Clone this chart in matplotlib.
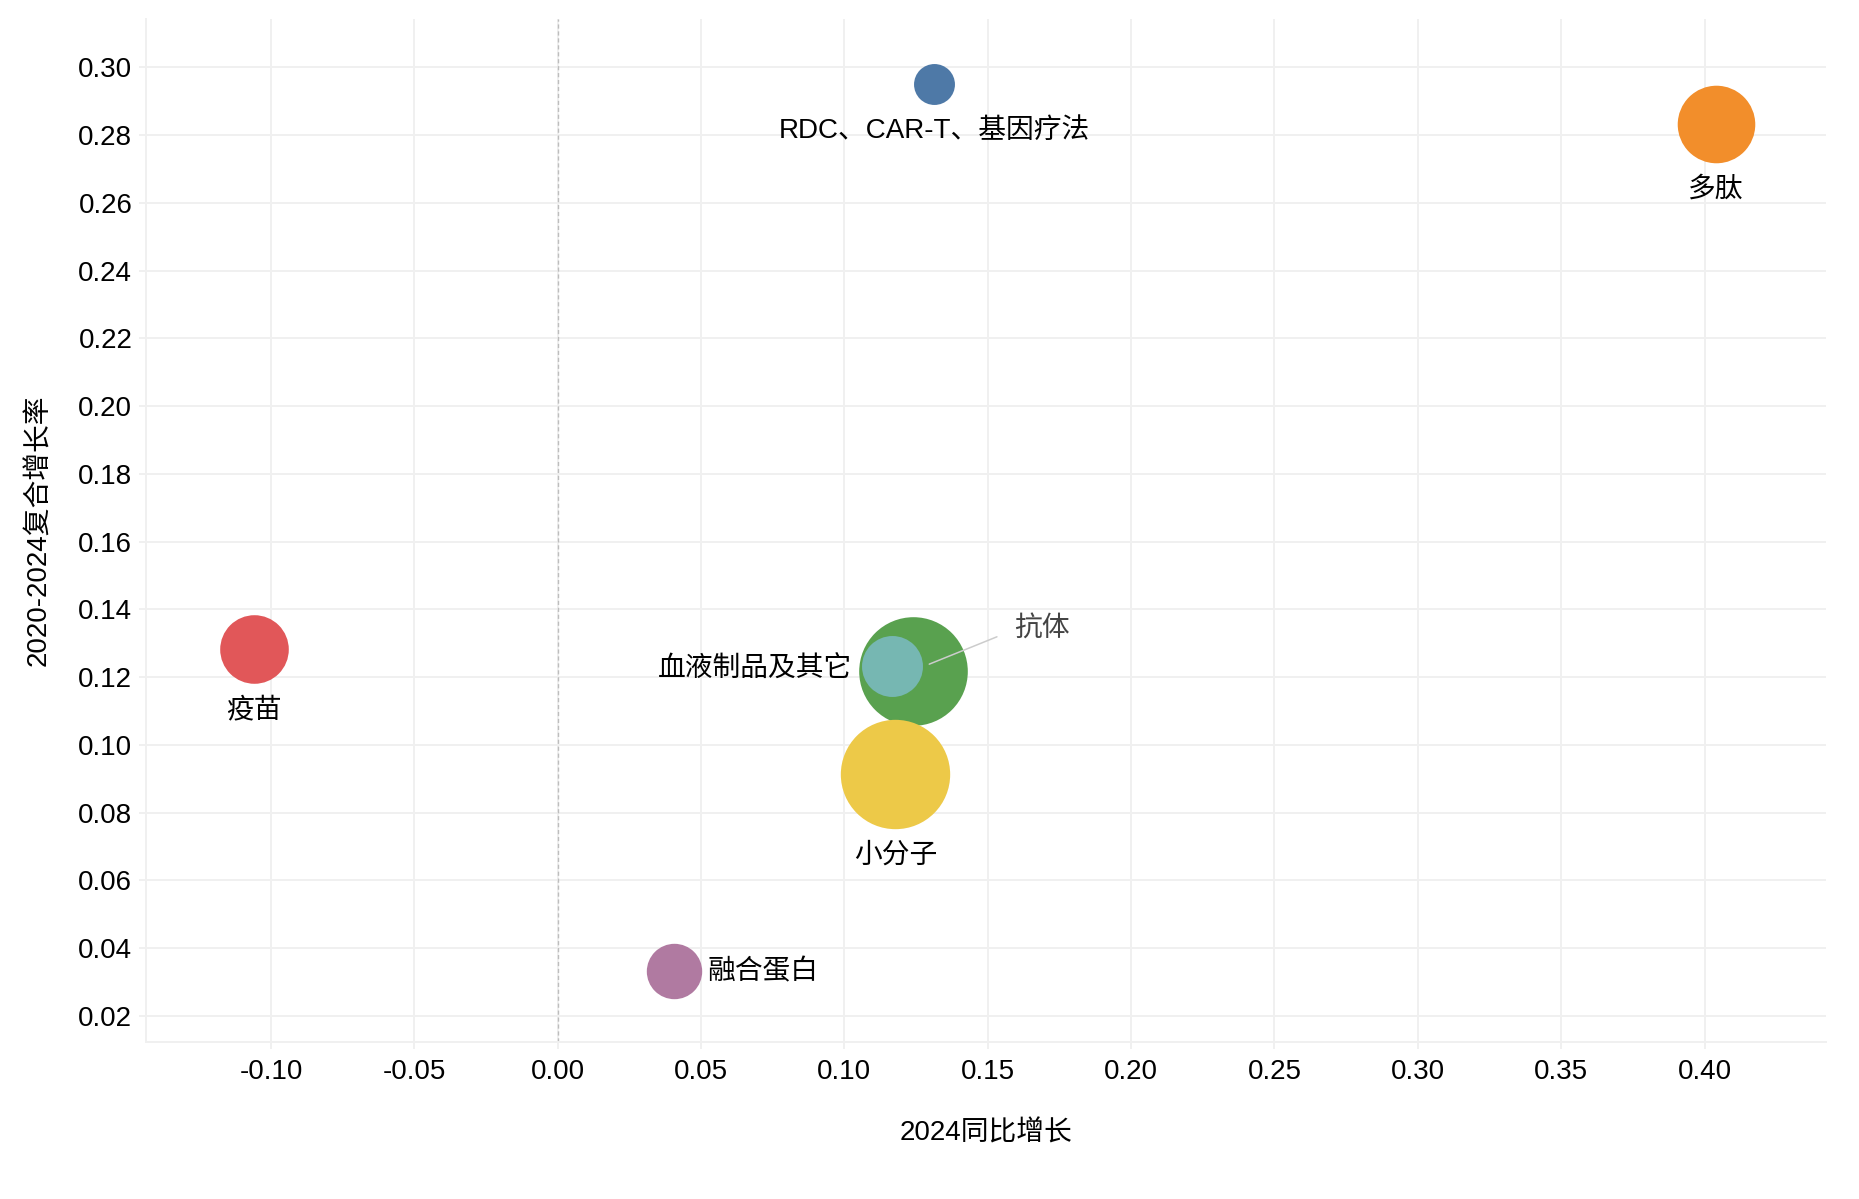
import matplotlib
matplotlib.use('Agg')
from matplotlib import pyplot as plt
import numpy as np

plt.rcParams['font.family'] = ['Liberation Sans', 'Noto Sans CJK SC', 'DejaVu Sans']

# 数据: 2024同比增长, 2020-2024复合增长率, 气泡大小(相对值)
categories = ['RDC、CAR-T、基因疗法', '多肽', '疫苗', '抗体', '血液制品及其它', '小分子', '融合蛋白']
yoy_2024 = [0.1313, 0.4040, -0.1059, 0.1239, 0.1165, 0.1178, 0.0407]
cagr_2020_2024 = [0.2952, 0.2832, 0.1282, 0.1219, 0.1232, 0.0913, 0.0334]
bubble_value = [14.2, 51.0, 39.9, 100.0, 31.5, 101.4, 26.0]
colors = ['#4E79A7', '#F28E2B', '#E15759', '#59A14F', '#76B7B2', '#EDC948', '#B07AA1']
# label placement: below / left / right / callout
placement = ['below', 'below', 'below', 'callout', 'left', 'below', 'right']

x_ticks = [-0.10, -0.05, 0.00, 0.05, 0.10, 0.15, 0.20, 0.25, 0.30, 0.35, 0.40]
y_ticks = [0.02, 0.04, 0.06, 0.08, 0.10, 0.12, 0.14, 0.16, 0.18, 0.20, 0.22, 0.24, 0.26, 0.28, 0.30]

size_scale = 61.15
font_size = 20
grid_color = '#f0f0f0'

fig = plt.figure(figsize=(18.59, 11.99), dpi=100)
ax = fig.add_axes([0.0785, 0.1307, 0.9038, 0.8535])

ax.set_xlim(-0.1436, 0.4424)
ax.set_ylim(0.01224, 0.3143)
ax.set_xticks(x_ticks)
ax.set_yticks(y_ticks)
ax.set_xticklabels(['%.2f' % v for v in x_ticks])
ax.set_yticklabels(['%.2f' % v for v in y_ticks])
ax.tick_params(labelsize=font_size, length=5, width=1.4, color=grid_color, labelcolor='black')
ax.tick_params(axis='x', pad=7)
ax.tick_params(axis='y', pad=4.8)

ax.grid(True, color=grid_color, linewidth=1.4)
ax.set_axisbelow(True)
for side in ['top', 'right']:
    ax.spines[side].set_visible(False)
for side in ['left', 'bottom']:
    ax.spines[side].set_color(grid_color)
    ax.spines[side].set_linewidth(1.4)

ax.axvline(0, color='#bdbdbd', linewidth=1.0, linestyle=(0, (3, 2)), zorder=1)

for i, name in enumerate(categories):
    s = bubble_value[i] * size_scale
    ax.scatter([yoy_2024[i]], [cagr_2020_2024[i]], s=s, color=colors[i],
               linewidths=0, zorder=3 + i)
    r = np.sqrt(s) / 2
    where = placement[i]
    if where == 'below':
        ax.annotate(name, (yoy_2024[i], cagr_2020_2024[i]), xytext=(0, -(r + 19)),
                    textcoords='offset points', ha='center', va='center',
                    fontsize=font_size, color='black', zorder=20)
    elif where == 'left':
        ax.annotate(name, (yoy_2024[i], cagr_2020_2024[i]), xytext=(-(r + 6.5), -2.0),
                    textcoords='offset points', ha='right', va='center',
                    fontsize=font_size, color='black', zorder=20)
    elif where == 'right':
        ax.annotate(name, (yoy_2024[i], cagr_2020_2024[i]), xytext=(r + 4.3, -1.5),
                    textcoords='offset points', ha='left', va='center',
                    fontsize=font_size, color='black', zorder=20)
    else:
        ax.annotate(name, (yoy_2024[i], cagr_2020_2024[i]), xytext=(73.2, 29.6),
                    textcoords='offset points', ha='left', va='center',
                    fontsize=font_size, color='#444444', zorder=20,
                    arrowprops=dict(arrowstyle='-', color='#cccccc', lw=1.1,
                                    patchA=None, shrinkA=13.7, shrinkB=12.7,
                                    relpos=(0, 0.5)))

ax.set_xlabel('2024同比增长', fontsize=font_size, va='center')
ax.set_ylabel('2020-2024复合增长率', fontsize=font_size, va='center')
ax.xaxis.set_label_coords(0.5, -0.0891)
ax.yaxis.set_label_coords(-0.0637, 0.5)

fig.savefig('out.png', dpi=100, facecolor='white')
